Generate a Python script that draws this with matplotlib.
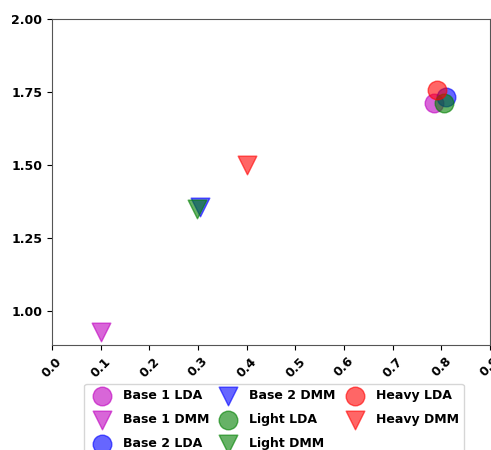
import matplotlib
matplotlib.use("Agg")
import matplotlib.pyplot as plt

# (label, x, y, color, marker)
labels = ["Base 1 LDA", "Base 1 DMM", "Base 2 LDA", "Base 2 DMM",
          "Light LDA", "Light DMM", "Heavy LDA", "Heavy DMM"]
x_vals = [0.785, 0.10, 0.810, 0.305, 0.806, 0.297, 0.792, 0.40]
y_vals = [1.711, 0.93, 1.734, 1.355, 1.711, 1.350, 1.756, 1.50]
colors = ["m", "m", "b", "b", "g", "g", "r", "r"]
markers = ["o", "v", "o", "v", "o", "v", "o", "v"]

fig = plt.figure(figsize=(4.91, 4.5), dpi=100)
ax = fig.add_axes([0.106, 0.2333, 0.892, 0.7244])

for lab, x, y, c, m in zip(labels, x_vals, y_vals, colors, markers):
    ax.scatter(x, y, s=180, c=c, marker=m, alpha=0.6, label=lab)

ax.set_xlim(0, 0.9)
ax.set_ylim(0.884, 2.0)
ax.set_xticks([0.0, 0.1, 0.2, 0.3, 0.4, 0.5, 0.6, 0.7, 0.8, 0.9])
ax.set_yticks([1.00, 1.25, 1.50, 1.75, 2.00])
ax.yaxis.set_major_formatter(matplotlib.ticker.FormatStrFormatter("%.2f"))
ax.xaxis.set_major_formatter(matplotlib.ticker.FormatStrFormatter("%.1f"))
for lbl in ax.get_xticklabels():
    lbl.set_rotation(45)
    lbl.set_fontweight("bold")
for lbl in ax.get_yticklabels():
    lbl.set_fontweight("bold")
ax.tick_params(labelsize=9)
for sp in ax.spines.values():
    sp.set_color("#555555")

ax.legend(loc="upper center", bbox_to_anchor=(0.507, -0.1), ncol=3,
          prop={"weight": "bold", "size": 9}, handletextpad=0.7,
          columnspacing=0.5, labelspacing=0.9)

fig.savefig("out.png", dpi=100)
